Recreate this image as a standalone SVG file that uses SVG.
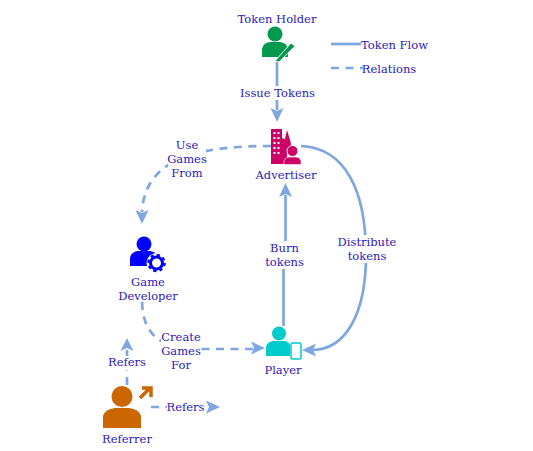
<svg xmlns="http://www.w3.org/2000/svg" width="533" height="451" viewBox="0 0 533 451">
<style>
text{font-family:"DejaVu Serif",serif;font-size:11.5px;fill:#2a20b5;text-anchor:middle}
.f,.d{fill:none;stroke:#7ea6e0;stroke-width:2.7}
.d{stroke-dasharray:8 6.500}
.h{fill:#7ea6e0}
.bg{fill:#fff}
</style>
<rect width="533" height="451" fill="#fff"/>
<g id="connectors">
<path class="f" d="M277 61V110"/>
<path class="h" d="M277 122l-6.500-14 6.500 3 6.500-3z"/>
<path class="f" d="M331 44H361"/>
<path class="d" d="M331 68H363"/>
<path class="d" d="M271 146C205 146 145 155 142 212"/>
<path class="h" d="M142 224l-6.500-14 6.500 3 6.500-3z"/>
<path class="f" d="M301 146C345 148 366 190 366 255C366 315 345 350 312 350"/>
<path class="h" d="M302 350l14-6.500-3 6.500 3 6.500z"/>
<path class="f" d="M283.500 326V255H285.500V195"/>
<path class="h" d="M285.500 183l-6.500 14 6.500-3 6.500 3z"/>
<path class="d" d="M142 302C143 330 155 349 200 349H256"/>
<path class="h" d="M265 348l-14-6.500 3 6.500-3 6.500z"/>
<path class="d" d="M127 385V350"/>
<path class="h" d="M127 338l-6.500 13 6.500-3 6.500 3z"/>
<path class="d" d="M151 407H208"/>
<path class="h" d="M220 407l-14-6.500 3 6.500-3 6.500z"/>
</g>
<g id="token-holder">
<circle cx="275" cy="34" r="7.500" fill="#00994d"/>
<path d="M262 57V49Q263 43 270 42H280Q287 43 288 49V57Z" fill="#00994d"/>
<path d="M275 61L291 43 295 46 279 62Z" fill="#00994d" stroke="#fff"/>
<text x="277" y="23">Token Holder</text>
</g>
<g id="legend">
<text x="394.500" y="49">Token Flow</text>
<text x="389" y="73">Relations</text>
</g>
<g id="issue-label"><rect class="bg" x="240" y="86" width="76" height="14"/><text x="277.500" y="97">Issue Tokens</text></g>
<g id="advertiser">
<path d="M271 129H282V138L285 139 287 130 290 140 292 148 293 153H271Z" fill="#cc0066"/>
<path d="M271 153H287V164H271Z" fill="#cc0066"/>
<g fill="#fff"><rect x="273.500" y="132" width="2" height="2"/><rect x="277.500" y="132" width="2" height="2"/><rect x="273.500" y="137" width="2" height="2"/><rect x="277.500" y="137" width="2" height="2"/><rect x="273.500" y="142" width="2" height="2"/><rect x="277.500" y="142" width="2" height="2"/><rect x="273.500" y="147" width="2" height="2"/><rect x="277.500" y="147" width="2" height="2"/><rect x="273.500" y="152" width="2" height="2"/><rect x="277.500" y="152" width="2" height="2"/></g>
<circle cx="292.500" cy="151" r="5.500" fill="#cc0066" stroke="#fff"/>
<path d="M284 164.500V161Q285 157 289 157H296Q300 157 301 161V164.500Z" fill="#cc0066" stroke="#fff" stroke-width=".6"/>
<text x="286" y="179">Advertiser</text>
</g>
<g id="use-label"><rect class="bg" x="168" y="139" width="38" height="42"/><text x="187" y="149">Use</text><text x="187" y="163">Games</text><text x="187" y="177">From</text></g>
<g id="game-developer">
<circle cx="144" cy="244" r="7.500" fill="#0000ff"/>
<path d="M130 266V258Q131 252 138 251H150Q156 252 158 256V266Z" fill="#0000ff"/>
<circle cx="156.500" cy="263" r="10" fill="#fff"/>
<circle cx="156.500" cy="263" r="6" fill="#fff" stroke="#0000ff" stroke-width="3"/>
<circle cx="156.500" cy="263" r="8" fill="none" stroke="#0000ff" stroke-width="2.500" stroke-dasharray="3.140 3.140"/>
<text x="148" y="286">Game</text>
<text x="148" y="300">Developer</text>
</g>
<g id="burn-label"><rect class="bg" x="265" y="241" width="40" height="28"/><text x="284.500" y="252">Burn</text><text x="284.500" y="266">tokens</text></g>
<g id="distribute-label"><rect class="bg" x="337" y="235" width="60" height="28"/><text x="367" y="246">Distribute</text><text x="367" y="260">tokens</text></g>
<g id="player">
<circle cx="279" cy="333.500" r="7" fill="#00cccc"/>
<path d="M266 356V347Q267 342 273 341H285Q289 342 290 345V356Z" fill="#00cccc"/>
<rect x="291" y="343" width="10" height="16" rx="1.500" fill="#fff" stroke="#00cccc" stroke-width="1.500"/>
<text x="283" y="374">Player</text>
</g>
<g id="create-label"><rect class="bg" x="161" y="331" width="40" height="42"/><text x="181" y="341">Create</text><text x="181" y="355">Games</text><text x="181" y="369">For</text></g>
<g id="refers-up"><rect class="bg" x="108" y="356" width="38" height="14"/><text x="127" y="366">Refers</text></g>
<g id="referrer">
<circle cx="122" cy="396.500" r="10.500" fill="#cc6600"/>
<path d="M103 428V416Q105 409 115 408H129Q139 409 141 416V428Z" fill="#cc6600"/>
<path d="M140 398L149 389M142 388H151V397" fill="none" stroke="#cc6600" stroke-width="3.500"/>
<text x="127" y="443">Referrer</text>
</g>
<g id="refers-right"><rect class="bg" x="167" y="400" width="37" height="14"/><text x="185.500" y="411">Refers</text></g>
</svg>
